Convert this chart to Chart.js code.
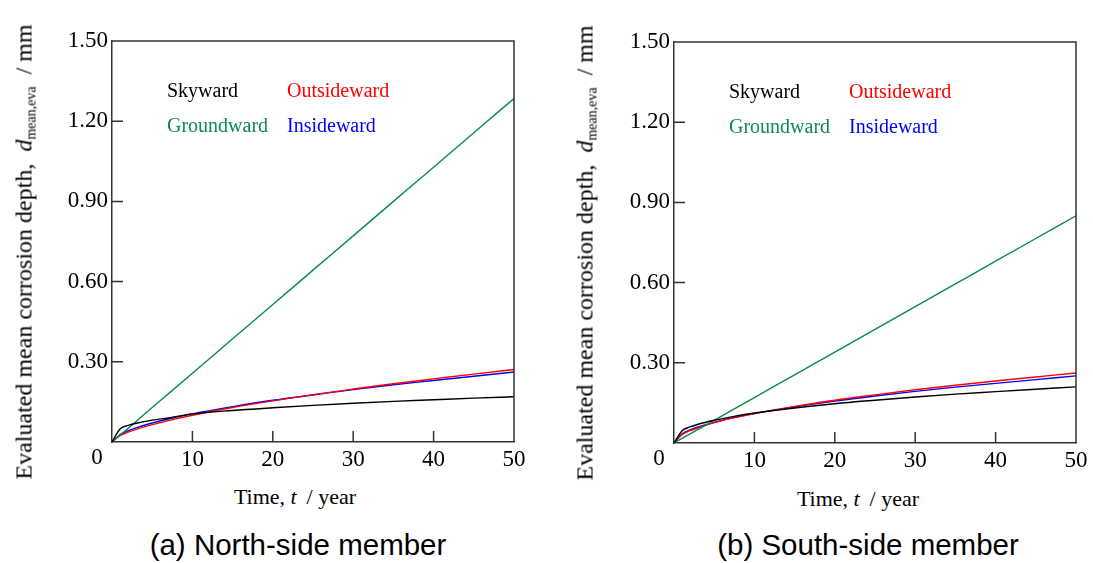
<!DOCTYPE html>
<html>
<head>
<meta charset="utf-8">
<script src="https://cdn.jsdelivr.net/npm/chart.js@4/dist/chart.umd.min.js"></script>
<style>
  body { margin: 0; background: #fff; width: 1093px; height: 563px; position: relative; overflow: hidden; }
  .box { position: absolute; top: 0; height: 480px; }
  .ytitle, .xtitle { position: absolute; font-family: "Liberation Serif", serif; color: #000; white-space: nowrap; }
  .ytitle { font-size: 24px; transform: translate(-50%, -50%) rotate(-90deg); }
  .xtitle { font-size: 22px; transform: translate(-50%, -50%); }
  .caption { position: absolute; font-family: "Liberation Sans", Arial, sans-serif; font-size: 29.5px; color: #000; transform: translate(-50%, -50%); white-space: nowrap; }
  sub { font-size: 14px; vertical-align: -4px; }
</style>
</head>
<body>
<div class="box" style="left:0;width:546px"><canvas id="north"></canvas></div>
<div class="box" style="left:546px;width:547px"><canvas id="south"></canvas></div>

<div class="ytitle" style="left:25px;top:252px">Evaluated mean corrosion depth,&nbsp; <i>d</i><sub>mean,eva</sub> &nbsp;/ mm</div>
<div class="ytitle" style="left:586px;top:253px">Evaluated mean corrosion depth,&nbsp; <i>d</i><sub>mean,eva</sub> &nbsp;/ mm</div>
<div class="xtitle" style="left:295px;top:497px">Time, <i>t</i> &thinsp;/ year</div>
<div class="xtitle" style="left:858px;top:499px">Time, <i>t</i> &thinsp;/ year</div>
<div class="caption" style="left:298px;top:545px">(a) North-side member</div>
<div class="caption" style="left:868px;top:545px">(b) South-side member</div>

<script>
// time in years
const years = [0, 1, 2, 3, 5, 7, 10, 15, 20, 25, 30, 35, 40, 45, 50];

// (a) north side, mm
const northSky     = [0, 0.049, 0.062, 0.070, 0.082, 0.090, 0.105, 0.118, 0.128, 0.137, 0.145, 0.152, 0.158, 0.164, 0.169];
const northGround  = [0, 0.026, 0.051, 0.077, 0.129, 0.180, 0.257, 0.386, 0.514, 0.643, 0.771, 0.900, 1.028, 1.157, 1.285];
const northOutside = [0, 0.024, 0.037, 0.047, 0.065, 0.080, 0.100, 0.129, 0.154, 0.177, 0.198, 0.218, 0.236, 0.254, 0.271];
const northInside  = [0, 0.028, 0.042, 0.053, 0.071, 0.086, 0.105, 0.132, 0.156, 0.176, 0.196, 0.214, 0.230, 0.246, 0.262];

// (b) south side, mm
const southSky     = [0, 0.046, 0.060, 0.070, 0.085, 0.097, 0.112, 0.131, 0.147, 0.160, 0.172, 0.183, 0.192, 0.201, 0.210];
const southGround  = [0, 0.017, 0.034, 0.051, 0.085, 0.119, 0.170, 0.255, 0.340, 0.425, 0.510, 0.595, 0.680, 0.765, 0.850];
const southOutside = [0, 0.032, 0.046, 0.057, 0.076, 0.091, 0.110, 0.137, 0.160, 0.180, 0.199, 0.216, 0.232, 0.247, 0.262];
const southInside  = [0, 0.034, 0.049, 0.060, 0.077, 0.092, 0.110, 0.135, 0.157, 0.176, 0.193, 0.209, 0.223, 0.237, 0.251];

const labels = ['Skyward', 'Groundward', 'Outsideward', 'Insideward'];
const colors = ['#000000', '#0b8a4c', '#ff0000', '#0000ff'];

const serif = '"Liberation Serif", "Times New Roman", serif';
const axisCol = '#333';

function pts(ys) { return ys.map((y, i) => ({ x: years[i], y })); }

// inward ticks, box frame, corner "0" and the 2x2 coloured legend
const framePlugin = {
  id: 'frame',
  afterDraw(chart) {
    const { ctx, chartArea: a, scales: { x, y } } = chart;
    ctx.save();
    ctx.strokeStyle = axisCol;
    ctx.lineWidth = 1.5;
    ctx.beginPath();
    ctx.moveTo(a.left, a.top); ctx.lineTo(a.right, a.top); ctx.lineTo(a.right, a.bottom);
    x.ticks.forEach(t => {
      if (t.value <= 0 || t.value >= 50) return;
      const px = x.getPixelForValue(t.value);
      ctx.moveTo(px, a.bottom); ctx.lineTo(px, a.bottom - 11);
    });
    y.ticks.forEach(t => {
      if (t.value <= 0) return;
      const py = y.getPixelForValue(t.value);
      ctx.moveTo(a.left, py); ctx.lineTo(a.left + 11, py);
    });
    ctx.stroke();

    ctx.fillStyle = '#000';
    ctx.font = '23px ' + serif;
    ctx.textAlign = 'center';
    ctx.textBaseline = 'middle';
    ctx.fillText('0', a.left - 15, a.bottom + 16);

    ctx.font = '20px ' + serif;
    ctx.textAlign = 'left';
    const pos = [[55, 51], [55, 86], [175, 51], [175, 86]];
    chart.data.datasets.forEach((ds, i) => {
      ctx.fillStyle = ds.borderColor;
      ctx.fillText(ds.label, a.left + pos[i][0], a.top + pos[i][1]);
    });
    ctx.restore();
  }
};

function makeChart(id, series, pad) {
  new Chart(document.getElementById(id), {
    type: 'line',
    data: {
      datasets: series.map((s, i) => ({
        label: labels[i],
        data: pts(s),
        borderColor: colors[i],
        borderWidth: 1.4,
        pointRadius: 0,
        cubicInterpolationMode: 'monotone',
        fill: false
      }))
    },
    options: {
      responsive: true,
      maintainAspectRatio: false,
      animation: false,
      layout: { padding: { left: 0, right: pad.right, top: pad.top, bottom: 0 } },
      plugins: { legend: { display: false }, tooltip: { enabled: false } },
      scales: {
        x: {
          type: 'linear', min: 0, max: 50,
          grid: { display: false, drawTicks: false },
          border: { display: true, color: axisCol, width: 1.5 },
          ticks: {
            stepSize: 10, padding: 4, color: '#000',
            font: { family: serif, size: 23 },
            callback: v => v === 0 ? '' : v
          },
          afterFit: s => { s.height = pad.bottom; }
        },
        y: {
          min: 0, max: 1.5,
          grid: { display: false, drawTicks: false },
          border: { display: true, color: axisCol, width: 1.5 },
          ticks: {
            stepSize: 0.3, padding: 4, color: '#000',
            font: { family: serif, size: 23 },
            callback: v => v < 0.01 ? '' : v.toFixed(2)
          },
          afterFit: s => { s.width = pad.left; }
        }
      }
    },
    plugins: [framePlugin]
  });
}

makeChart('north', [northSky, northGround, northOutside, northInside], { left: 112, right: 32, top: 41, bottom: 38 });
makeChart('south', [southSky, southGround, southOutside, southInside], { left: 128, right: 17, top: 42, bottom: 37 });
</script>
</body>
</html>
